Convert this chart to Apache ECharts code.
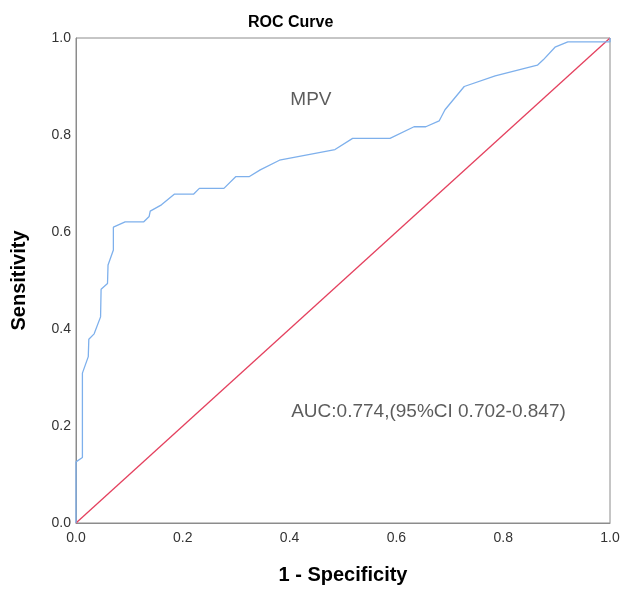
<!DOCTYPE html>
<html>
<head>
<meta charset="utf-8">
<script src="https://cdn.jsdelivr.net/npm/echarts@6/dist/echarts.min.js"></script>
<style>
html, body { margin: 0; padding: 0; background: #fff; }
#chart_panel { width: 622px; height: 589px; }
</style>
</head>
<body>
<div id="chart_panel"></div>
<script>
// ROC curve points (1 - specificity, sensitivity)
var fprData = [0, 0, 0.012, 0.012, 0.023, 0.024, 0.034, 0.046, 0.047, 0.059, 0.060, 0.070, 0.070,
	0.092, 0.127, 0.137, 0.139, 0.160, 0.184, 0.220, 0.231, 0.277, 0.299, 0.324, 0.345,
	0.381, 0.485, 0.518, 0.588, 0.633, 0.655, 0.680, 0.691, 0.727, 0.785, 0.864, 0.875,
	0.897, 0.921, 1.0, 1.0];
var tprData = [0, 0.126, 0.135, 0.309, 0.343, 0.379, 0.390, 0.425, 0.482, 0.494, 0.532, 0.563, 0.610,
	0.621, 0.621, 0.632, 0.643, 0.656, 0.678, 0.678, 0.690, 0.690, 0.714, 0.714, 0.728,
	0.748, 0.770, 0.793, 0.793, 0.817, 0.817, 0.829, 0.852, 0.900, 0.922, 0.944, 0.955,
	0.981, 0.992, 0.992, 1.0];
var refLine = [[0, 0], [1, 1]];
var tickLabels = ['0.0', '0.2', '0.4', '0.6', '0.8', '1.0'];
var curveName = 'MPV';
var aucText = 'AUC:0.774,(95%CI 0.702-0.847)';

var myChart = echarts.init(document.getElementById('chart_panel'));

function getRocData(){
	var data = [];
	for(var i=0; i<fprData.length; i++){
		data.push([fprData[i], tprData[i]]);
	}
	return data;
}

function tickFormat(v){
	var idx = Math.round(v / 0.2);
	return tickLabels[idx] || '';
}

var axisFont = 'Liberation Sans';
var option = {
	animation: false,
	title: {
		text: 'ROC Curve',
		left: 243,
		top: 10,
		textStyle: { fontFamily: axisFont, fontSize: 16, fontWeight: 'bold', color: '#000' }
	},
	grid: {
		left: 76, right: 12, top: 38, bottom: 66,
		outerBoundsMode: 'none',
		containLabel: false,
		show: true, borderColor: '#8c8c8c', borderWidth: 1
	},
	xAxis: {
		type: 'value', min: 0, max: 1, interval: 0.2,
		name: '1 - Specificity',
		nameLocation: 'middle',
		nameGap: 42,
		nameTextStyle: { fontFamily: axisFont, fontSize: 20, fontWeight: 'bold', color: '#000' },
		axisLine: { show: true, lineStyle: { color: '#8c8c8c' } },
		axisTick: { show: false },
		splitLine: { show: false },
		axisLabel: { formatter: tickFormat, color: '#333', fontFamily: axisFont, fontSize: 14, margin: 8 }
	},
	yAxis: {
		type: 'value', min: 0, max: 1, interval: 0.2,
		name: 'Sensitivity',
		nameLocation: 'middle',
		nameGap: 47,
		nameTextStyle: { fontFamily: axisFont, fontSize: 20, fontWeight: 'bold', color: '#000' },
		axisLine: { show: true, lineStyle: { color: '#8c8c8c' } },
		axisTick: { show: false },
		splitLine: { show: false },
		axisLabel: { formatter: tickFormat, color: '#333', fontFamily: axisFont, fontSize: 14, margin: 5 }
	},
	series: [
		{
			name: 'ref', type: 'line', data: refLine, symbol: 'none',
			lineStyle: { color: '#e4405e', width: 1.3 }
		},
		{
			name: curveName, type: 'line', data: getRocData(), symbol: 'none',
			lineStyle: { color: '#7eb0ec', width: 1.3 }
		},
		{
			type: 'scatter', symbolSize: 0, silent: true,
			data: [
				{ value: [0.44, 0.872, curveName], label: { position: 'inside' } },
				[0.403, 0.229, aucText]
			],
			label: {
				show: true, position: 'right', distance: 0,
				formatter: function(p){ return p.value[2]; },
				fontFamily: axisFont, fontSize: 19, color: '#333'
			}
		}
	]
};
myChart.setOption(option);
</script>
</body>
</html>
